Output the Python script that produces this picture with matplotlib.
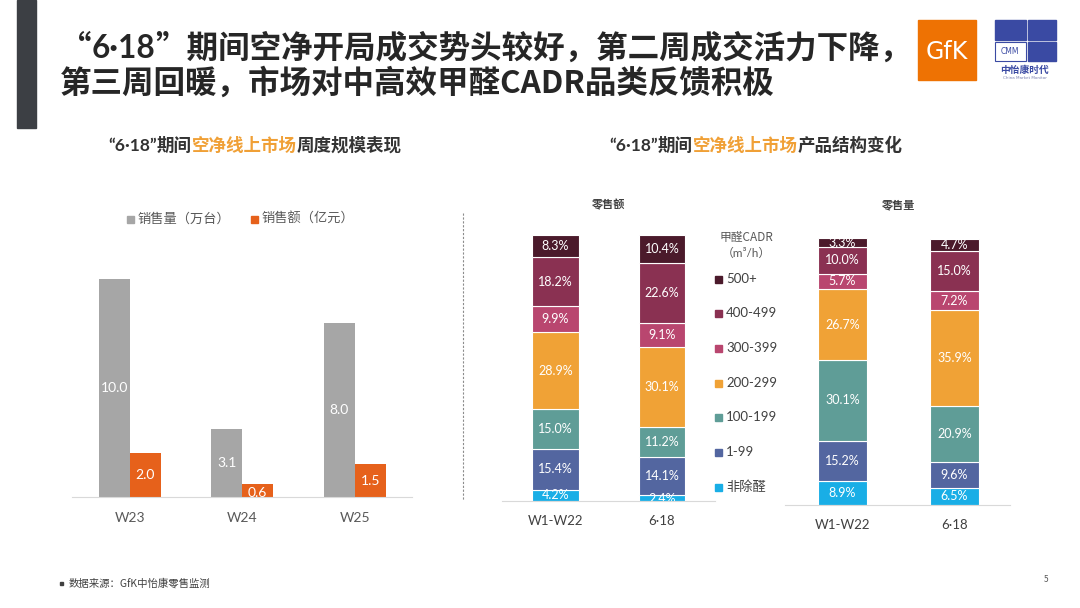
import matplotlib
matplotlib.use("Agg")
import matplotlib.pyplot as plt
from matplotlib.patches import Rectangle
from matplotlib.lines import Line2D

plt.rcParams['font.family'] = ['Noto Sans CJK SC', 'DejaVu Sans']

# left chart data
weeks = ["W23", "W24", "W25"]
qty = [10.0, 3.1, 8.0]      # 销售量（万台）
amt = [2.0, 0.6, 1.5]       # 销售额（亿元）

# right charts data (bottom -> top)
cadr = ["非除醛", "1-99", "100-199", "200-299", "300-399", "400-499", "500+"]
periods = ["W1-W22", "6·18"]
sales_amt = {"W1-W22": [4.2, 15.4, 15.0, 28.9, 9.9, 18.2, 8.3],
             "6·18": [2.4, 14.1, 11.2, 30.1, 9.1, 22.6, 10.4]}
sales_qty = {"W1-W22": [8.9, 15.2, 30.1, 26.7, 5.7, 10.0, 3.3],
             "6·18": [6.5, 9.6, 20.9, 35.9, 7.2, 15.0, 4.7]}

cadr_colors = ["#19aee6", "#5366a0", "#5f9d97", "#f0a236", "#b9466f", "#8a3152", "#4b1a2b"]

W, H = 1080, 608
fig = plt.figure(figsize=(10.8, 6.08), dpi=100)
fig.patch.set_facecolor("white")

def fx(px):
    return px / W

def fy(py):
    return 1 - py / H

LAT = ["Lato", "Noto Sans CJK SC"]
CJK = ["Noto Sans CJK SC", "DejaVu Sans"]

renderer = fig.canvas.get_renderer()

def rich(x_px, yc, parts, size, center=False):
    # parts: (text, colour, family)
    texts = []
    x = 0
    for s, c, fam in parts:
        t = fig.text(x, fy(yc), s, fontsize=size, fontweight="bold", color=c, va="center",
                     family=fam)
        bb = t.get_window_extent(renderer)
        texts.append((t, bb.width))
        x += bb.width / W
    x = fx(x_px) - (x / 2 if center else 0)
    for t, w in texts:
        t.set_x(x)
        x += w / W

# dark side bar
fig.patches.append(Rectangle((fx(17), fy(128)), fx(19), 128 / H, transform=fig.transFigure,
                             color="#3c3f44", zorder=0))

# main title
title_c = "#262626"
rich(60, 49, [("“", title_c, CJK), ("6·18", title_c, LAT),
              ("”期间空净开局成交势头较好，第二周成交活力下降，", title_c, CJK)], 22.7)
rich(60, 84, [("第三周回暖，市场对中高效甲醛CADR品类反馈积极", title_c, CJK)], 22.7)

# logos
fig.patches.append(Rectangle((fx(918), fy(80)), fx(58), 60 / H, transform=fig.transFigure,
                             color="#ee7203"))
fig.text(fx(947), fy(52), "GfK", fontsize=17, color="white", ha="center", va="center",
         family="DejaVu Sans")
fig.patches.append(Rectangle((fx(1028), fy(40)), fx(28), 20 / H, transform=fig.transFigure,
                             color="#3a4aa3"))
fig.patches.append(Rectangle((fx(1028), fy(61)), fx(28), 19 / H, transform=fig.transFigure,
                             color="#3a4aa3"))
fig.patches.append(Rectangle((fx(995), fy(40)), fx(31), 20 / H, transform=fig.transFigure,
                             color="#3a4aa3"))
fig.patches.append(Rectangle((fx(995), fy(61)), fx(31), 19 / H, transform=fig.transFigure,
                             facecolor="white", edgecolor="#3a4aa3", lw=0.8))
fig.text(fx(1010), fy(51), "CMM", fontsize=5.5, color="#3a4aa3", ha="center", va="center",
         family="DejaVu Sans")
fig.text(fx(1025), fy(70), "中怡康时代", fontsize=7, color="#3a4aa3", ha="center", va="center",
         fontweight="bold")
fig.text(fx(1025), fy(78), "China Market Monitor", fontsize=3, color="#7a80b0", ha="center",
         va="center", family="DejaVu Sans")

dark = "#333333"
orange_t = "#f0a036"
rich(255, 146, [("“6·18”", dark, LAT), ("期间", dark, CJK), ("空净线上市场", orange_t, CJK),
                ("周度规模表现", dark, CJK)], 12.6, center=True)
rich(756, 146, [("“6·18”", dark, LAT), ("期间", dark, CJK), ("空净线上市场", orange_t, CJK),
                ("产品结构变化", dark, CJK)], 12.6, center=True)

# ---- left grouped bars ----
gray, orng = "#a6a6a6", "#e6611b"
ax1 = fig.add_axes([fx(72), fy(497), fx(340), (497 - 235) / H])
xs = list(range(len(weeks)))
bw = 0.275
b1 = ax1.bar([x - bw / 2 for x in xs], qty, bw, color=gray, zorder=2)
b2 = ax1.bar([x + bw / 2 for x in xs], amt, bw, color=orng, zorder=2)
ax1.set_xlim(-0.516, 2.51)
ax1.set_ylim(0, (497 - 235) / 21.8)
for bars, vals in ((b1, qty), (b2, amt)):
    for r, v in zip(bars, vals):
        ax1.text(r.get_x() + r.get_width() / 2, v / 2 if v > 1 else 0.2, f"{v:.1f}",
                 ha="center", va="center", color="white", fontsize=10,
                 family=["Lato", "DejaVu Sans"], clip_on=True, zorder=3)
ax1.set_xticks(xs)
ax1.set_xticklabels(weeks, fontsize=10, color="#595959", family=["Lato", "DejaVu Sans"])
ax1.tick_params(axis="x", length=0, pad=11)
ax1.set_yticks([])
for s in ["top", "right", "left"]:
    ax1.spines[s].set_visible(False)
ax1.spines["bottom"].set_color("#d9d9d9")
ax1.patch.set_alpha(0)

# legend of left chart
fig.patches.append(Rectangle((fx(127), fy(223)), fx(7), 7 / H, transform=fig.transFigure, color=gray))
fig.text(fx(137), fy(219), "销售量（万台）", fontsize=9.5, color="#595959", va="center")
fig.patches.append(Rectangle((fx(251), fy(223)), fx(7), 7 / H, transform=fig.transFigure, color=orng))
fig.text(fx(261), fy(219), "销售额（亿元）", fontsize=9.5, color="#595959", va="center")

# divider
fig.lines.append(Line2D([fx(463), fx(463)], [fy(213), fy(500)], transform=fig.transFigure,
                        color="#8c8c8c", lw=0.8, ls=(0, (2, 1.5))))

# ---- stacked charts ----
def stacked(left_px, right_px, c0, c1, bottom_px, top_px, data, title, pad):
    spacing = c1 - c0
    x0 = (left_px - c0) / spacing
    x1 = (right_px - c0) / spacing
    ax = fig.add_axes([fx(left_px), fy(bottom_px), fx(right_px - left_px), (bottom_px - top_px) / H])
    for i, p in enumerate(periods):
        base = 0
        for v, col in zip(data[p], cadr_colors):
            ax.bar(i, v, 0.44, bottom=base, color=col, edgecolor="white", linewidth=0.8, zorder=2)
            yl = base + v / 2 if v > 3 else base + v * 0.3
            ax.text(i, yl, f"{v:.1f}%", ha="center", va="center", color="white",
                    fontsize=9, family=["Lato", "DejaVu Sans"], clip_on=True, zorder=3)
            base += v
    ax.set_xlim(x0, x1)
    ax.set_ylim(0, 100)
    ax.set_xticks(range(len(periods)))
    ax.set_xticklabels(periods, fontsize=9.5, color="#404040", family=LAT)
    ax.tick_params(axis="x", length=0, pad=pad)
    ax.set_yticks([])
    for s in ["top", "right", "left"]:
        ax.spines[s].set_visible(False)
    ax.spines["bottom"].set_color("#d9d9d9")
    ax.patch.set_alpha(0)
    fig.text(fx((c0 + c1) / 2), fy(205), title, fontsize=8, fontweight="bold",
             color="#404040", ha="center", va="center")
    return ax

stacked(502, 715, 555.5, 662, 501, 235, sales_amt, "零售额", 10)
stacked(785, 1010, 842.5, 954.5, 505, 238, sales_qty, "零售量", 10)

# legend of CADR
fig.text(fx(746), fy(238), "甲醛CADR", fontsize=8.5, color="#595959", ha="center", va="center")
fig.text(fx(746), fy(253), "（m³/h）", fontsize=8.5, color="#595959", ha="center", va="center",
         family=LAT)
leg_y = [487, 452, 417, 383, 348, 313, 279]
for lab, col, yy in zip(cadr, cadr_colors, leg_y):
    fig.patches.append(Rectangle((fx(715), fy(yy + 3.5)), fx(7), 7 / H, transform=fig.transFigure,
                                 color=col))
    fig.text(fx(726), fy(yy), lab, fontsize=9.5, color="#404040", va="center", family=LAT)

# footer
fig.patches.append(Rectangle((fx(60), fy(585)), fx(3), 3 / H, transform=fig.transFigure,
                             color="#404040"))
fig.text(fx(69), fy(583), "数据来源：GfK中怡康零售监测", fontsize=7.5, color="#404040", va="center")
fig.text(fx(1046), fy(580), "5", fontsize=6, color="#595959", ha="center", va="center")

fig.savefig("out.png", dpi=100)
